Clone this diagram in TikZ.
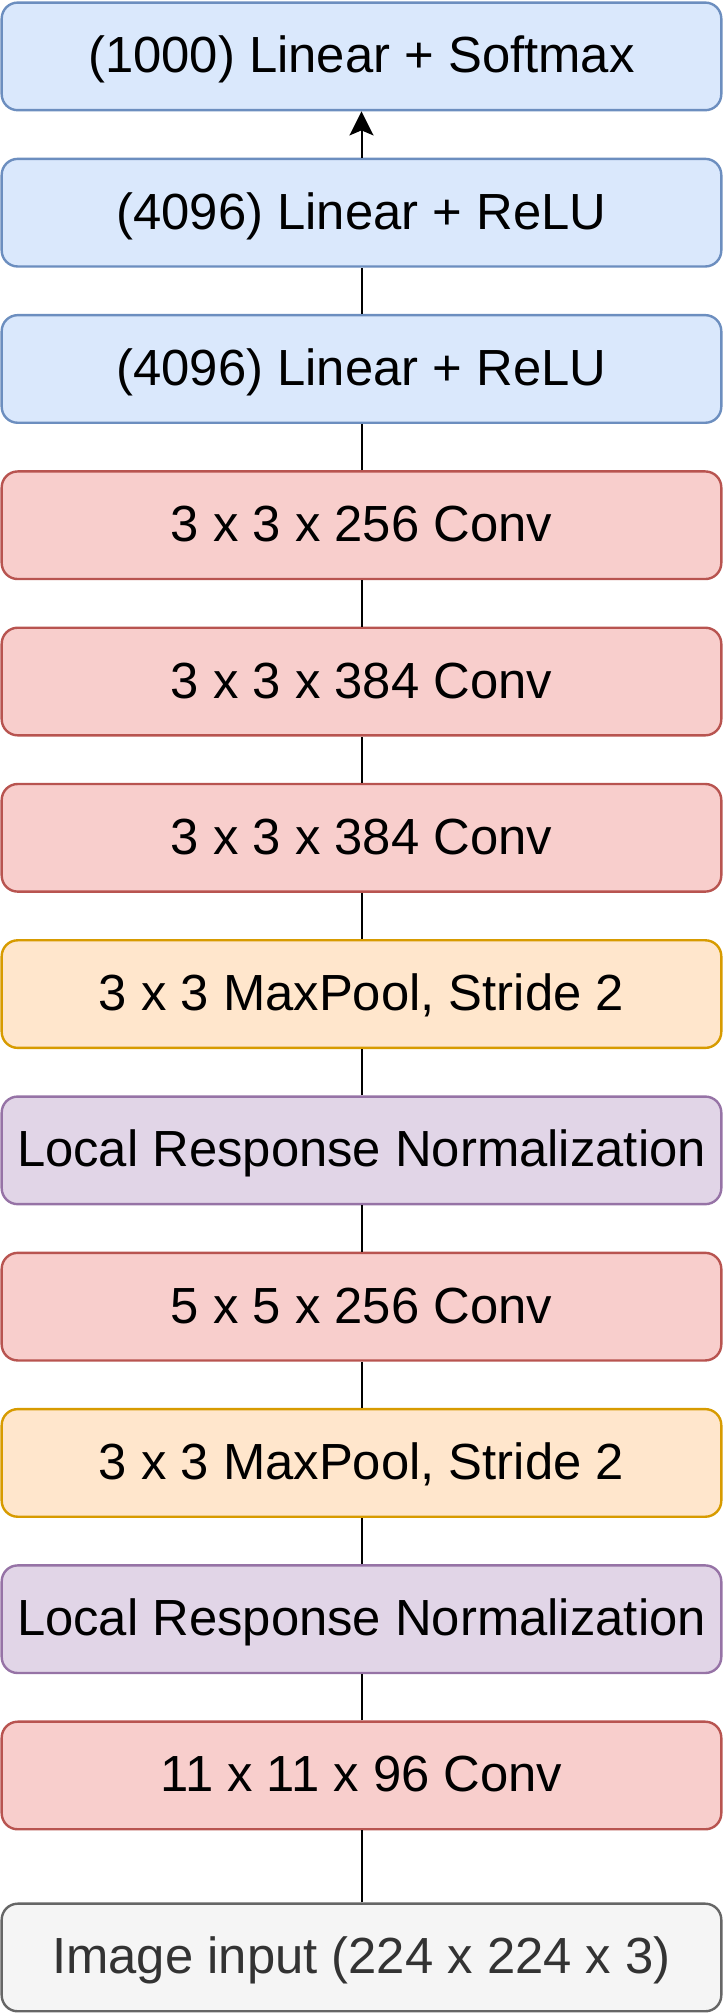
\documentclass[tikz,border=0pt]{standalone}
\usepackage{fontspec}
\setmainfont{Liberation Sans}
\usepackage{tikz}
\usetikzlibrary{arrows.meta}
\usetikzlibrary{positioning}

\definecolor{linearfill}{HTML}{DAE8FC}
\definecolor{linearline}{HTML}{6C8EBF}
\definecolor{convfill}{HTML}{F8CECC}
\definecolor{convline}{HTML}{B85450}
\definecolor{poolfill}{HTML}{FFE6CC}
\definecolor{poolline}{HTML}{D79B00}
\definecolor{lrnfill}{HTML}{E1D5E7}
\definecolor{lrnline}{HTML}{9673A6}
\definecolor{inputfill}{HTML}{F5F5F5}
\definecolor{inputline}{HTML}{666666}
\definecolor{inputtext}{HTML}{333333}

\begin{document}
\begin{tikzpicture}[
    node distance=23.14pt,
    layer/.style={rounded corners=8pt, line width=1.2pt, minimum width=359.8pt,
      minimum height=53.8pt, text height=20pt, text depth=3.5pt,
      font=\fontsize{25.4}{30}\selectfont},
    linear/.style={layer, draw=linearline, fill=linearfill},
    conv/.style={layer, draw=convline, fill=convfill},
    pool/.style={layer, draw=poolline, fill=poolfill},
    lrn/.style={layer, draw=lrnline, fill=lrnfill},
    inp/.style={layer, draw=inputline, fill=inputfill, text=inputtext}]
  \useasboundingbox (-180.75pt, -27.75pt) rectangle (180.75pt, 978.75pt);
  \node[inp] (input) at (0,0) {Image input (224 x 224 x 3)};
  \node[conv, above=36pt of input] (conv1) {11 x 11 x 96 Conv};
  \node[lrn, above=of conv1] (lrn1) {Local Response Normalization};
  \node[pool, above=of lrn1] (pool1) {3 x 3 MaxPool, Stride 2};
  \node[conv, above=of pool1] (conv2) {5 x 5 x 256 Conv};
  \node[lrn, above=of conv2] (lrn2) {Local Response Normalization};
  \node[pool, above=of lrn2] (pool2) {3 x 3 MaxPool, Stride 2};
  \node[conv, above=of pool2] (conv3) {3 x 3 x 384 Conv};
  \node[conv, above=of conv3] (conv4) {3 x 3 x 384 Conv};
  \node[conv, above=of conv4] (conv5) {3 x 3 x 256 Conv};
  \node[linear, above=of conv5] (fc1) {(4096) Linear + ReLU};
  \node[linear, above=of fc1] (fc2) {(4096) Linear + ReLU};
  \node[linear, above=of fc2] (fc3) {(1000) Linear + Softmax};
  \foreach \a/\b in {input/conv1, conv1/lrn1, lrn1/pool1, pool1/conv2, conv2/lrn2,
      lrn2/pool2, pool2/conv3, conv3/conv4, conv4/conv5, conv5/fc1, fc1/fc2}{
    \draw [line width=1pt] (\a) -- (\b);
  }
  \draw [line width=1pt, -{Stealth[length=12pt, width=12pt, inset=2.5pt]}] (fc2) -- (fc3);
\end{tikzpicture}
\end{document}
